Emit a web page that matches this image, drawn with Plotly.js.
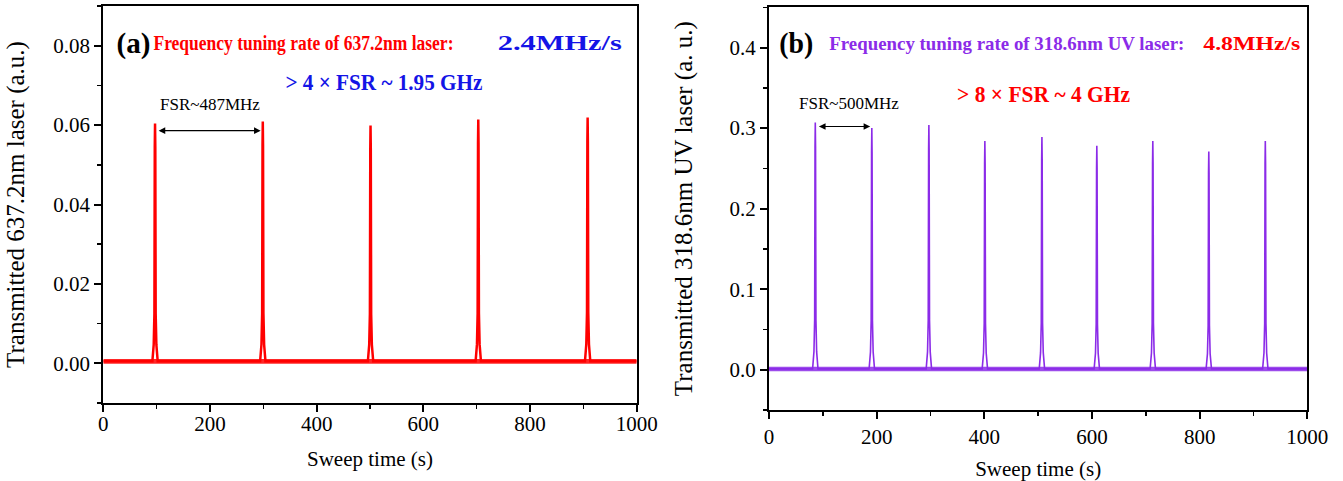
<!DOCTYPE html>
<html>
<head>
<meta charset="utf-8">
<script src="https://cdn.plot.ly/plotly-3.0.1.min.js"></script>
<style>html,body{margin:0;padding:0;background:#fff;}#chart{width:1343px;height:481px;}</style>
</head>
<body>
<div id="chart"></div>
<script>
// ---------- data ----------
// panel (a): 637.2 nm laser
const leftPeakTimes   = [97, 299, 501, 703, 908];
const leftPeakHeights = [0.0604, 0.0609, 0.0599, 0.0614, 0.0619];
const leftBaseline    = 0.0005;
const leftNoise       = 0.0006;
// panel (b): 318.6 nm UV laser
const rightPeakTimes   = [86, 191, 297, 401, 507, 609, 713, 817, 922];
const rightPeakHeights = [0.307, 0.300, 0.304, 0.284, 0.289, 0.278, 0.284, 0.271, 0.284];
const rightBaseline    = 0.001;
const rightNoise       = 0.0028;
// peak line shape (offset in s, fraction of peak height)
const peakOffsets = [-5, -2.5, -1.2, -0.5, 0, 0.5, 1.2, 2.5, 5];
const peakProfile = [0, 0.07, 0.2, 0.9, 1, 0.9, 0.2, 0.07, 0];
const sweepRange = [0, 1000];
const xTicks = [0, 200, 400, 600, 800, 1000];

const W = 1343, H = 481;
const FONT = 'Liberation Serif, Times New Roman, serif';
const RED = '#FF0000', BLUE = '#1414E6', PURPLE = '#8B2BE8';

function buildTrace(times, heights, base) {
  const x = [sweepRange[0]], y = [base];
  times.forEach((t, i) => {
    peakOffsets.forEach((o, k) => {
      x.push(t + o);
      y.push(base + (heights[i] - base) * peakProfile[k]);
    });
  });
  x.push(sweepRange[1]); y.push(base);
  return {x, y};
}
function band(base, noise) {
  return {
    x: [sweepRange[0], sweepRange[1], sweepRange[1], sweepRange[0]],
    y: [base - noise, base - noise, base + noise, base + noise]
  };
}
const L = buildTrace(leftPeakTimes, leftPeakHeights, leftBaseline);
const R = buildTrace(rightPeakTimes, rightPeakHeights, rightBaseline);
const LB = band(leftBaseline, leftNoise);
const RB = band(rightBaseline, rightNoise);

const traces = [
  {x: LB.x, y: LB.y, xaxis: 'x', yaxis: 'y', mode: 'lines', fill: 'toself', fillcolor: 'rgba(255,0,0,0.85)', line: {width: 0, color: RED}, hoverinfo: 'skip'},
  {x: L.x, y: L.y, xaxis: 'x', yaxis: 'y', mode: 'lines', line: {color: RED, width: 2.5}},
  {x: RB.x, y: RB.y, xaxis: 'x2', yaxis: 'y2', mode: 'lines', fill: 'toself', fillcolor: 'rgba(139,43,232,0.85)', line: {width: 0, color: PURPLE}, hoverinfo: 'skip'},
  {x: R.x, y: R.y, xaxis: 'x2', yaxis: 'y2', mode: 'lines', line: {color: PURPLE, width: 1.6}}
];

function px(x) { return x / W; }
function py(y) { return 1 - y / H; }

const tickFont = {family: FONT, size: 21, color: '#000'};
function xAxis(domain, anchor, labelShift, titleStandoff) {
  return {
    domain: domain, anchor: anchor, range: sweepRange,
    tickvals: xTicks, ticks: 'outside', ticklen: 7, tickwidth: 2, tickcolor: '#000',
    ticklabelstandoff: labelShift,
    minor: {dtick: 100, ticks: 'outside', ticklen: 4, tickwidth: 1.5, tickcolor: '#000', showgrid: false},
    showline: true, linewidth: 2, linecolor: '#000', mirror: true,
    showgrid: false, zeroline: false, tickfont: tickFont,
    title: {text: 'Sweep time (s)', font: {family: FONT, size: 21, color: '#000'}, standoff: titleStandoff}
  };
}
function yAxis(domain, anchor, range, dtick, minor, fmt, title, titleStandoff) {
  return {
    domain: domain, anchor: anchor, range: range, dtick: dtick, tick0: 0, tickformat: fmt,
    ticks: 'outside', ticklen: 7, tickwidth: 2, tickcolor: '#000',
    minor: {dtick: minor, ticks: 'outside', ticklen: 4, tickwidth: 1.5, tickcolor: '#000', showgrid: false},
    showline: true, linewidth: 2, linecolor: '#000', mirror: true,
    showgrid: false, zeroline: false, tickfont: tickFont,
    title: {text: title, font: {family: FONT, size: 25, color: '#000'}, standoff: titleStandoff}
  };
}

const ann = [];
const fitWidths = [];
function txt(text, x, y, size, color, bold, width) {
  ann.push({text: bold ? '<b>' + text + '</b>' : text, xref: 'paper', yref: 'paper',
    x: px(x), y: py(y), xanchor: 'center', yanchor: 'middle', showarrow: false,
    font: {family: FONT, size: size, color: color}});
  fitWidths.push(width || 0);
}
// panel (a)
txt('(a)', 133, 43, 30, '#000', true, 34);
txt('Frequency tuning rate of 637.2nm laser:', 303, 43, 20, RED, true, 300);
txt('2.4MHz/s', 560, 43, 20, BLUE, true, 124);
txt('&gt; 4 × FSR ~ 1.95 GHz', 384, 82, 23, BLUE, true, 197);
txt('FSR~487MHz', 210, 105, 17, '#000', false);
// panel (b)
txt('(b)', 796, 43, 30, '#000', true, 34);
txt('Frequency tuning rate of 318.6nm UV laser:', 1007, 43, 19, PURPLE, true, 355);
txt('4.8MHz/s', 1252, 43, 19, RED, true, 97);
txt('&gt; 8 × FSR ~ 4 GHz', 1043, 94, 23, RED, true, 173);
txt('FSR~500MHz', 849, 103, 17, '#000', false);
// FSR arrows between the first two peaks
function fsrArrow(xr, yr, t0, t1, level) {
  ann.push({xref: xr, yref: yr, axref: xr, ayref: yr, x: t1, y: level, ax: t0, ay: level,
    text: '', showarrow: true, arrowhead: 2, arrowside: 'end+start', arrowsize: 1.1, arrowwidth: 1.2, arrowcolor: '#000'});
  fitWidths.push(0);
}
fsrArrow('x', 'y', leftPeakTimes[0] + 4, leftPeakTimes[1] - 4, 0.0586);
fsrArrow('x2', 'y2', rightPeakTimes[0] + 4, rightPeakTimes[1] - 3, 0.302);

const layout = {
  width: W, height: H, margin: {l: 0, r: 0, t: 0, b: 0},
  paper_bgcolor: '#fff', plot_bgcolor: '#fff', showlegend: false,
  xaxis: xAxis([px(103.3), px(636.7)], 'y', -6, 16),
  yaxis: yAxis([py(403), py(6)], 'x', [-0.01, 0.09], 0.02, 0.01, '.2f', 'Transmitted 637.2nm laser (a.u.)', 22),
  xaxis2: xAxis([px(769), px(1307.3)], 'y2', 0, 14),
  yaxis2: yAxis([py(410), py(7.3)], 'x2', [-0.05, 0.45], 0.1, 0.05, '.1f', 'Transmitted 318.6nm UV laser (a. u.)', 30),
  annotations: ann
};
Plotly.newPlot('chart', traces, layout, {displayModeBar: false, staticPlot: true}).then(gd => {
  // squeeze / stretch annotation text to the widths seen in the picture
  gd.querySelectorAll('g.annotation').forEach(g => {
    const i = +g.getAttribute('data-index');
    const w = fitWidths[i];
    if (!w) return;
    const t = g.querySelector('text.annotation-text');
    if (t) { t.setAttribute('textLength', w); t.setAttribute('lengthAdjust', 'spacingAndGlyphs'); }
  });
});
</script>
</body>
</html>
